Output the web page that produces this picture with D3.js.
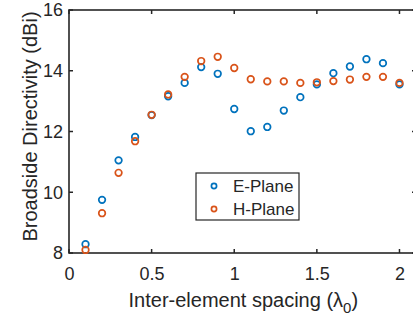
<!DOCTYPE html>
<html>
<head>
<meta charset="utf-8">
<script src="https://cdn.jsdelivr.net/npm/d3@7"></script>
<style>
  body { margin: 0; background: #fff; }
  text { font-family: "Liberation Sans", Arial, sans-serif; fill: #262626; }
</style>
</head>
<body>
<div class="chart"></div>
<script>
// data
var spacing = [0.1, 0.2, 0.3, 0.4, 0.5, 0.6, 0.7, 0.8, 0.9, 1.0,
               1.1, 1.2, 1.3, 1.4, 1.5, 1.6, 1.7, 1.8, 1.9, 2.0];
var ePlane = [8.29, 9.75, 11.05, 11.82, 12.54, 13.16, 13.6, 14.12, 13.9, 12.74,
              12.01, 12.15, 12.69, 13.13, 13.55, 13.92, 14.14, 14.38, 14.25, 13.55];
var hPlane = [8.1, 9.31, 10.64, 11.68, 12.55, 13.22, 13.8, 14.32, 14.46, 14.09,
              13.72, 13.65, 13.65, 13.6, 13.62, 13.66, 13.71, 13.8, 13.8, 13.6];
var xTicks = [0, 0.5, 1, 1.5, 2];
var yTicks = [8, 10, 12, 14, 16];
var seriesNames = ['E-Plane', 'H-Plane'];
var seriesColors = ['#0072BD', '#D95319'];

var margin = { top: 10, right: -3, bottom: 68, left: 69 };
var width = 413 - margin.left - margin.right;
var height = 321 - margin.top - margin.bottom;

var svg = d3.select('.chart')
  .append('svg')
    .attr('width', 413)
    .attr('height', 321)
  .append('g')
    .attr('transform', `translate(${margin.left}, ${margin.top})`);

var xScale = d3.scaleLinear().domain([0, 2.1]).range([0, width]);
var yScale = d3.scaleLinear().domain([8, 16]).range([height, 0]);

// frame
svg.append('rect')
  .attr('width', width)
  .attr('height', height)
  .style('fill', 'none')
  .style('stroke', '#262626')
  .style('stroke-width', 1.6);

// bottom / left axes, labels only
var xAxis = d3.axisBottom(xScale).tickValues(xTicks).tickSize(0).tickPadding(14)
  .tickFormat(d3.format('~g'));
var gx = svg.append('g')
  .attr('transform', `translate(0, ${height})`)
  .call(xAxis);
gx.select('.domain').remove();
gx.selectAll('text').style('font-size', '18px').style('fill', '#262626')
  .style('font-family', '"Liberation Sans", Arial, sans-serif');

var yAxis = d3.axisLeft(yScale).tickValues(yTicks).tickSize(0).tickPadding(6);
var gy = svg.append('g').call(yAxis);
gy.select('.domain').remove();
gy.selectAll('text').style('font-size', '18px').style('fill', '#262626')
  .style('font-family', '"Liberation Sans", Arial, sans-serif');

// inward tick marks on all sides
var tk = 4;
svg.selectAll('.xt-b').data(xTicks).enter().append('line')
  .attr('x1', d => xScale(d)).attr('x2', d => xScale(d))
  .attr('y1', height).attr('y2', height - tk)
  .style('stroke', '#262626').style('stroke-width', 1.5);
svg.selectAll('.xt-t').data(xTicks).enter().append('line')
  .attr('x1', d => xScale(d)).attr('x2', d => xScale(d))
  .attr('y1', 0).attr('y2', tk)
  .style('stroke', '#262626').style('stroke-width', 1.5);
svg.selectAll('.yt-l').data(yTicks).enter().append('line')
  .attr('x1', 0).attr('x2', tk)
  .attr('y1', d => yScale(d)).attr('y2', d => yScale(d))
  .style('stroke', '#262626').style('stroke-width', 1.5);
svg.selectAll('.yt-r').data(yTicks).enter().append('line')
  .attr('x1', width).attr('x2', width - tk)
  .attr('y1', d => yScale(d)).attr('y2', d => yScale(d))
  .style('stroke', '#262626').style('stroke-width', 1.5);

// markers
[ePlane, hPlane].forEach(function (vals, i) {
  svg.append('g').selectAll('circle')
    .data(vals.map((v, j) => [spacing[j], v]))
    .enter().append('circle')
      .attr('cx', d => xScale(d[0]))
      .attr('cy', d => yScale(d[1]))
      .attr('r', 3.3)
      .style('fill', 'none')
      .style('stroke', seriesColors[i])
      .style('stroke-width', 1.7);
});

// legend
var lg = svg.append('g').attr('transform', 'translate(127, 163)');
lg.append('rect')
  .attr('width', 103).attr('height', 47)
  .style('fill', '#fff').style('stroke', '#262626').style('stroke-width', 1.2);
seriesNames.forEach(function (name, i) {
  lg.append('circle')
    .attr('cx', 18).attr('cy', 13 + i * 23).attr('r', 2.6)
    .style('fill', 'none').style('stroke', seriesColors[i]).style('stroke-width', 1.7);
  lg.append('text')
    .attr('x', 37).attr('y', 13 + i * 23).attr('dy', '0.36em')
    .style('font-size', '17px')
    .text(name);
});

// axis titles
var xl = svg.append('text')
  .attr('x', xScale(1.055)).attr('y', height + 54)
  .attr('text-anchor', 'middle')
  .style('font-size', '20px');
xl.append('tspan').text('Inter-element spacing (\u03bb');
xl.append('tspan').attr('dy', 6).style('font-size', '15px').text('0');
xl.append('tspan').attr('dy', -6).text(')');

svg.append('text')
  .attr('transform', `translate(-32, ${height / 2 - 5}) rotate(-90)`)
  .attr('text-anchor', 'middle')
  .style('font-size', '20px')
  .text('Broadside Directivity (dBi)');
</script>
</body>
</html>
